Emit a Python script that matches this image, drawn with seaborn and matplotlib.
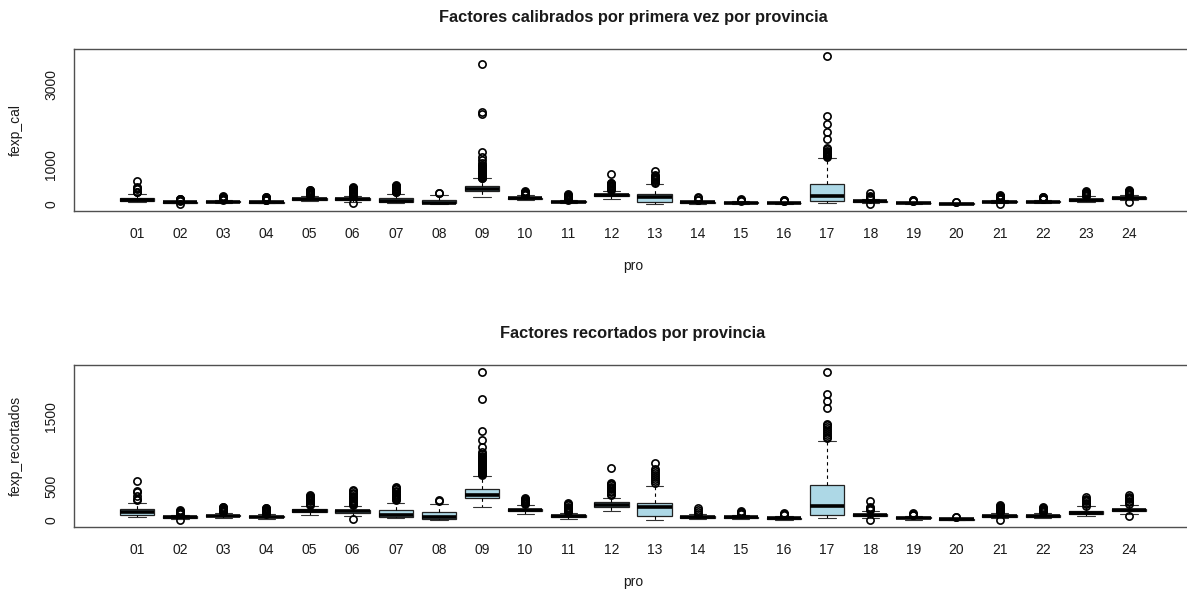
import matplotlib
matplotlib.use("Agg")
import matplotlib.pyplot as plt
import numpy as np
import pandas as pd
import seaborn as sns

# Province codes
provinces = ["01", "02", "03", "04", "05", "06", "07", "08", "09", "10", "11", "12",
             "13", "14", "15", "16", "17", "18", "19", "20", "21", "22", "23", "24"]

# Five-number summaries of the expansion factors per province
whisker_lo = [55, 22, 35, 25, 75, 70, 35, 8, 195, 100, 28, 135,
              12, 20, 15, 10, 38, 40, 12, 3, 30, 32, 60, 100]
quart_1 = [80, 40, 58, 45, 120, 110, 55, 25, 330, 130, 48, 200,
           60, 40, 35, 25, 75, 60, 30, 12, 55, 55, 95, 130]
median = [120, 50, 68, 55, 140, 130, 85, 45, 375, 150, 60, 230,
          190, 50, 45, 35, 210, 75, 38, 18, 68, 68, 115, 150]
quart_3 = [160, 58, 80, 65, 160, 150, 150, 120, 460, 170, 75, 265,
           250, 60, 55, 42, 520, 90, 45, 25, 80, 80, 140, 172]
whisker_hi = [255, 84, 110, 95, 210, 205, 250, 235, 650, 225, 110, 325,
              500, 88, 80, 65, 1155, 130, 65, 42, 115, 115, 205, 230]

# Outlying factors after trimming (fexp_recortados)
outliers_rec = [
    [295, 310, 360, 410, 430, 570],
    [8, 95, 105, 115, 125, 135, 145],
    [120, 130, 140, 150, 160, 170, 180, 190, 200],
    [100, 110, 120, 130, 140, 150, 160, 170, 180, 185],
    [230, 245, 260, 275, 290, 305, 320, 335, 350, 365],
    [25, 220, 235, 250, 265, 280, 300, 320, 340, 360, 380, 400, 420, 435],
    [300, 315, 330, 345, 360, 375, 390, 410, 430, 450, 470, 490],
    [280, 295],
    [665, 672, 680, 688, 695, 703, 712, 720, 728, 735, 745, 752, 760, 770, 778,
     786, 795, 805, 815, 826, 838, 850, 862, 875, 890, 905, 920, 940, 960, 985,
     1070, 1165, 1295, 1765, 2150],
    [240, 255, 270, 285, 300, 315, 330],
    [120, 135, 150, 165, 180, 200, 220, 240, 260],
    [370, 390, 410, 430, 450, 470, 490, 510, 530, 545, 765],
    [545, 570, 600, 630, 660, 690, 720, 750, 830],
    [100, 120, 150, 180],
    [90, 105, 120, 140],
    [75, 90, 100, 115],
    [1195, 1215, 1240, 1265, 1290, 1320, 1350, 1380, 1400, 1630, 1735, 1830, 2150],
    [8, 145, 160, 175, 200, 280],
    [75, 85, 100, 115],
    [48, 52],
    [10, 125, 140, 155, 170, 185, 200, 215, 230],
    [125, 140, 155, 170, 185, 196],
    [215, 235, 255, 275, 295, 315, 340],
    [62, 245, 265, 285, 305, 325, 345, 365],
]

# Outlying factors of the first calibration (fexp_cal) where they differ
outliers_cal_diff = {
    "01": [300, 320, 380, 420, 440, 590],
    "09": [665, 672, 680, 688, 695, 703, 712, 720, 728, 735, 745, 752, 760, 770, 778,
           786, 795, 805, 815, 826, 838, 850, 862, 875, 890, 905, 920, 940, 960, 988,
           1050, 1113, 1197, 1306, 2269, 2327, 3528],
    "17": [1197, 1215, 1240, 1265, 1290, 1320, 1350, 1380, 1408, 1634, 1826, 2019,
           2228, 3737],
}


def sample_from_summary(lo, q1, md, q3, hi, extra, reps=100):
    """Values whose quartiles, whiskers and fliers reproduce the summary."""
    return [lo] + [q1] * reps + [md] * reps + [q3] * reps + [hi] + list(extra)


def build_frame(column, outliers):
    rows = []
    for i, p in enumerate(provinces):
        vals = sample_from_summary(whisker_lo[i], quart_1[i], median[i],
                                   quart_3[i], whisker_hi[i], outliers[i])
        rows.extend((p, v) for v in vals)
    return pd.DataFrame(rows, columns=["pro", column])


outliers_cal = [outliers_cal_diff.get(p, outliers_rec[i]) for i, p in enumerate(provinces)]
df_cal = build_frame("fexp_cal", outliers_cal)
df_rec = build_frame("fexp_recortados", outliers_rec)

sns.set_style("white")
plt.rcParams["font.family"] = ["Liberation Sans", "DejaVu Sans"]

W, H = 1187, 595
fig = plt.figure(figsize=(W / 100, H / 100), dpi=100)
left_px, width_px, height_px = 74, 1118, 161.7
ax1 = fig.add_axes([left_px / W, 1 - 210.7 / H, width_px / W, height_px / H])
ax2 = fig.add_axes([left_px / W, 1 - 526.7 / H, width_px / W, height_px / H])

frame_col = "#505050"
text_col = "#1a1a1a"

panels = [
    (ax1, df_cal, "fexp_cal", "Factores calibrados por primera vez por provincia",
     (-160, 3905), [0, 1000, 2000, 3000], ["0", "1000", "", "3000"]),
    (ax2, df_rec, "fexp_recortados", "Factores recortados por provincia",
     (-90, 2250), [0, 500, 1000, 1500, 2000], ["0", "500", "", "1500", ""]),
]

for ax, df, col, title, ylim, yt, ytl in panels:
    sns.boxplot(
        data=df, x="pro", y=col, order=provinces, ax=ax,
        color="#ADD8E6", saturation=1, linecolor="black", linewidth=0.9,
        width=0.8, whis=1.5,
        medianprops=dict(color="black", linewidth=2.6, solid_capstyle="butt"),
        whiskerprops=dict(color="black", linewidth=0.8, linestyle=(0, (3, 3))),
        capprops=dict(color="#333333", linewidth=0.8),
        boxprops=dict(edgecolor="#222222", linewidth=0.9),
        flierprops=dict(marker="o", markersize=5.2, markerfacecolor="none",
                        markeredgecolor="black", markeredgewidth=1.2),
    )
    ax.set_xlim(-1.46, 24.46)
    ax.set_ylim(*ylim)
    ax.set_yticks(yt)
    ax.set_yticklabels(ytl, rotation=90, va="center")
    for s in ax.spines.values():
        s.set_visible(True)
        s.set_color(frame_col)
        s.set_linewidth(1.0)
    ax.tick_params(axis="both", which="major", direction="out", length=5, width=0.9,
                   color=frame_col, labelsize=10, labelcolor=text_col)
    ax.tick_params(axis="x", pad=7)
    ax.tick_params(axis="y", pad=6.5)
    ax.set_xlabel("pro", fontsize=10, color=text_col)
    ax.set_ylabel(col, fontsize=10, color=text_col)
    ax.xaxis.set_label_coords(0.5, -0.30)
    ax.yaxis.set_label_coords(-0.0456, 0.5)
    ax.set_title(title, fontsize=11.8, fontweight="bold", color=text_col, y=1.17, pad=0)

fig.savefig("out.png", dpi=100)
